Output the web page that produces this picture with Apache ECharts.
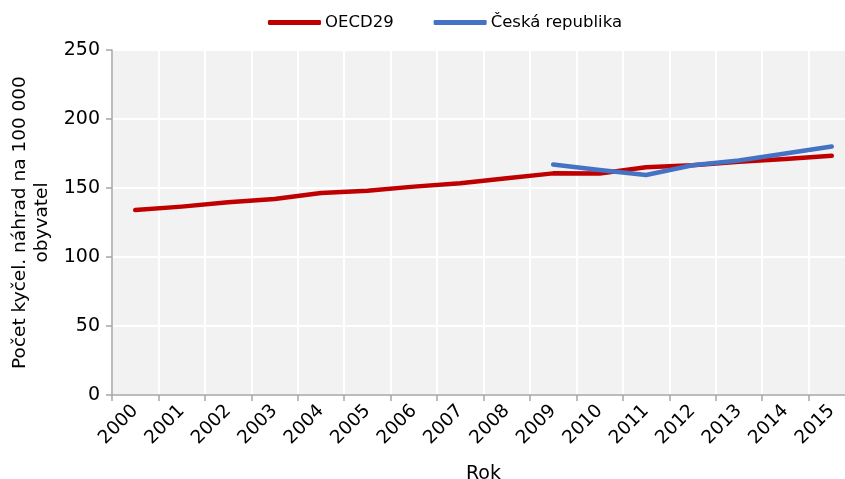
<!DOCTYPE html>
<html>
<head>
<meta charset="utf-8">
<script src="https://cdn.jsdelivr.net/npm/echarts@6/dist/echarts.min.js"></script>
<style>
html, body { margin: 0; padding: 0; background: #fff; overflow: hidden; }
#chart { width: 856px; height: 479px; }
</style>
</head>
<body>
<div id="chart"></div>
<script>
// Hip replacements per 100 000 inhabitants
const years = ['2000','2001','2002','2003','2004','2005','2006','2007','2008','2009','2010','2011','2012','2013','2014','2015'];
const oecd29 = [134, 136.5, 139.6, 142, 146.4, 148, 151, 153.4, 157, 160.6, 160.5, 165, 166.5, 169, 171, 173.3];
const czech = [null, null, null, null, null, null, null, null, null, 167, 163, 159.4, 166.5, 170, 175, 180];
const seriesNames = ['OECD29', 'Česká republika'];
const yTicks = { min: 0, max: 250, interval: 50 };

const font = '"DejaVu Sans", sans-serif';
const chart = echarts.init(document.getElementById('chart'), null, { renderer: 'canvas' });

chart.setOption({
  animation: false,
  backgroundColor: '#ffffff',
  textStyle: { fontFamily: font },
  legend: {
    top: 9,
    left: 263,
    itemGap: 40,
    itemWidth: 53,
    itemHeight: 5,
    icon: 'roundRect',
    textStyle: { fontFamily: font, fontSize: 16.5, color: '#000', padding: [0, 0, 0, -1] },
    data: seriesNames
  },
  grid: {
    left: 112,
    right: 1,
    top: 50,
    height: 345,
    outerBoundsMode: 'none',
    containLabel: false,
    show: true,
    backgroundColor: '#f2f2f2',
    borderWidth: 0
  },
  xAxis: {
    type: 'category',
    data: years,
    boundaryGap: true,
    name: 'Rok',
    nameLocation: 'middle',
    nameGap: 70,
    nameTextStyle: { fontFamily: font, fontSize: 19, color: '#000' },
    axisLine: { lineStyle: { color: '#a6a6a6', width: 1.5 } },
    axisTick: { show: true, interval: 0, length: 6, lineStyle: { color: '#a6a6a6', width: 1.5 } },
    axisLabel: { interval: 0, rotate: 45, margin: 13, fontFamily: font, fontSize: 18.5, color: '#000' },
    splitLine: { show: true, interval: 0, lineStyle: { color: '#ffffff', width: 2 } }
  },
  yAxis: {
    type: 'value',
    min: yTicks.min,
    max: yTicks.max,
    interval: yTicks.interval,
    name: 'Počet kyčel. náhrad na 100 000\nobyvatel',
    nameLocation: 'middle',
    nameGap: 58,
    nameRotate: 90,
    nameTextStyle: { fontFamily: font, fontSize: 18.5, color: '#000', lineHeight: 22 },
    axisLine: { show: true, lineStyle: { color: '#a6a6a6', width: 1.5 } },
    axisTick: { show: true, length: 6, lineStyle: { color: '#a6a6a6', width: 1.5 } },
    axisLabel: { margin: 12, fontFamily: font, fontSize: 19, color: '#000' },
    splitLine: { show: true, lineStyle: { color: '#ffffff', width: 2 } }
  },
  series: [
    {
      name: seriesNames[0],
      type: 'line',
      data: oecd29,
      symbol: 'none',
      lineStyle: { color: '#c00000', width: 4.5, cap: 'round', join: 'round' },
      itemStyle: { color: '#c00000' }
    },
    {
      name: seriesNames[1],
      type: 'line',
      data: czech,
      symbol: 'none',
      lineStyle: { color: '#4472c4', width: 4.5, cap: 'round', join: 'round' },
      itemStyle: { color: '#4472c4' }
    }
  ]
});
</script>
</body>
</html>
